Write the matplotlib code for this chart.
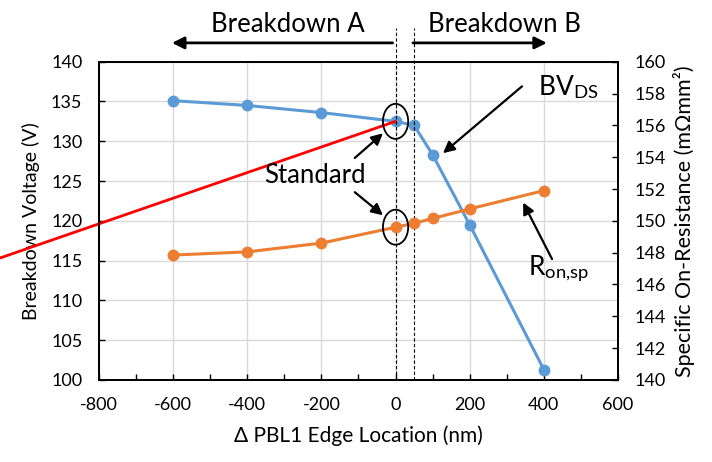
import matplotlib
matplotlib.use("Agg")
import matplotlib.pyplot as plt
from matplotlib.patches import Ellipse
import numpy as np

plt.rcParams['font.family'] = ['Lato', 'DejaVu Sans']
plt.rcParams['mathtext.fontset'] = 'custom'
plt.rcParams['mathtext.rm'] = 'Lato'
plt.rcParams['mathtext.it'] = 'Lato:italic'
plt.rcParams['axes.unicode_minus'] = False

# data
edge_loc = [-600, -400, -200, 0, 50, 100, 200, 400]
bv_ds = [135.1, 134.5, 133.6, 132.5, 132.0, 128.3, 119.5, 101.3]
r_on_sp = [147.85, 148.05, 148.6, 149.6, 149.85, 150.15, 150.75, 151.9]

blue = '#5B9BD5'
orange = '#ED7D31'

fig = plt.figure(figsize=(7.12, 4.62), dpi=100)
ax = fig.add_axes([0.139, 0.1775, 0.729, 0.689])
ax2 = ax.twinx()

# grid achter de data
ax.set_axisbelow(True)
ax.grid(True, which='major', color='#D9D9D9', linewidth=1)

ax.plot(edge_loc, bv_ds, color=blue, lw=2.2, marker='o', ms=7.5, zorder=3)
ax2.plot(edge_loc, r_on_sp, color=orange, lw=2.2, marker='o', ms=7.5, zorder=3)

ax.set_xlim(-800, 600)
ax.set_ylim(100, 140)
ax2.set_ylim(140, 160)
ax.set_xticks(np.arange(-800, 601, 200))
ax.set_xticks(np.arange(-800, 601, 100), minor=True)
ax.set_yticks(np.arange(100, 141, 5))
ax2.set_yticks(np.arange(140, 161, 2))

ax.tick_params(axis='both', which='both', direction='in', length=4, width=1, labelsize=13, pad=12)
ax2.tick_params(axis='y', direction='in', length=4, width=1, labelsize=13, pad=12)
for a in (ax, ax2):
    for s in a.spines.values():
        s.set_linewidth(1.3)

ax.set_xlabel('Δ PBL1 Edge Location (nm)', fontsize=15, labelpad=9)
ax.set_ylabel('Breakdown Voltage (V)', fontsize=14, labelpad=8)
ax2.set_ylabel('Specific On-Resistance (mΩmm²)', fontsize=15.5, labelpad=5)

# gestippelde lijnen bij 0 en 50
xt = ax.get_xaxis_transform()
for xv in (0, 50):
    ax.plot([xv, xv], [0, 1.105], transform=xt, color='black', lw=0.8,
            ls=(0, (3, 2)), clip_on=False, zorder=4)

# breakdown pijlen boven de grafiek
top_arrow = dict(arrowstyle='-|>', color='black', lw=2, mutation_scale=18, shrinkA=0, shrinkB=0)
ax.annotate('', xy=(-603, 1.059), xytext=(-8, 1.059), xycoords=xt, textcoords=xt,
            arrowprops=top_arrow)
ax.annotate('', xy=(408, 1.059), xytext=(47, 1.059), xycoords=xt, textcoords=xt,
            arrowprops=top_arrow)
ax.text(-290, 1.093, 'Breakdown A', transform=xt, ha='center', va='baseline', fontsize=18.5)
ax.text(294, 1.093, 'Breakdown B', transform=xt, ha='center', va='baseline', fontsize=18.5)

# ellipsen rond standaard punten
ax.add_patch(Ellipse((0, bv_ds[3]), 68, 4.4, fill=False, ec='black', lw=1.3, zorder=5))
ax2.add_patch(Ellipse((0, r_on_sp[3]), 68, 2.2, fill=False, ec='black', lw=1.3, zorder=5))

# rode lijn naar standaard punt
ax.annotate('', xy=(0, bv_ds[3]), xytext=(0, 462 - 258), xycoords='data',
            textcoords='figure pixels',
            arrowprops=dict(arrowstyle='-', color='red', lw=2, shrinkA=0, shrinkB=0))

arrow = dict(arrowstyle='-|>', color='black', lw=1.6, mutation_scale=17, shrinkA=0, shrinkB=0)
ax.text(-218, 124.8, 'Standard', ha='center', va='baseline', fontsize=18.5)
ax.annotate('', xy=(-34, 131.0), xytext=(-110, 127.9), arrowprops=arrow)
ax.annotate('', xy=(-34, 120.7), xytext=(-110, 123.6), arrowprops=arrow)

ax.text(384, 135.8, r'BV$_{\mathrm{DS}}$', ha='left', va='baseline', fontsize=19)
ax.annotate('', xy=(128, 128.5), xytext=(341, 136.9), arrowprops=arrow)

ax.text(357, 113.2, r'R$_{\mathrm{on{,}sp}}$', ha='left', va='baseline', fontsize=19)
ax.annotate('', xy=(344, 122.3), xytext=(422, 115.2), arrowprops=arrow)

fig.savefig('out.png', dpi=100)
